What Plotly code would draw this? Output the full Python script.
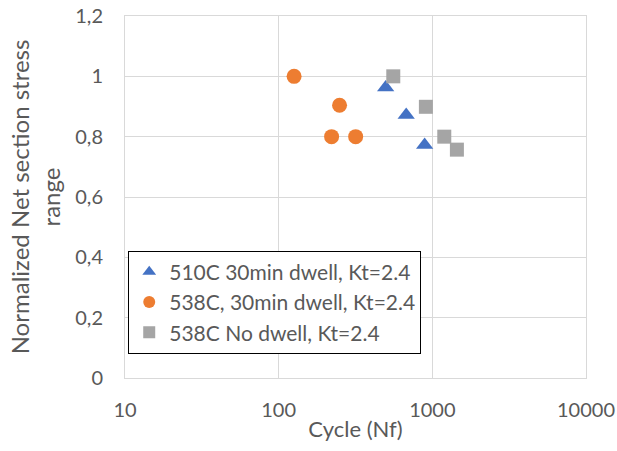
import plotly.graph_objects as go

blue_x = [497, 676, 891]
blue_y = [0.963, 0.872, 0.772]
orange_x = [126, 249, 221, 317]
orange_y = [1.0, 0.904, 0.8, 0.8]
gray_x = [557, 908, 1196, 1445]
gray_y = [1.0, 0.899, 0.8, 0.757]

names = ["510C 30min dwell, Kt=2.4", "538C, 30min dwell, Kt=2.4", "538C No dwell, Kt=2.4"]
y_ticks = [0, 0.2, 0.4, 0.6, 0.8, 1.0, 1.2]
y_tick_labels = ["0", "0,2", "0,4", "0,6", "0,8", "1", "1,2"]
x_ticks = [10, 100, 1000, 10000]
x_tick_labels = ["10", "100", "1000", "10000"]

fig = go.Figure()
fig.add_trace(go.Scatter(x=blue_x, y=blue_y, mode="markers", name=names[0],
                         marker=dict(symbol="triangle-up", size=15, color="#4472C4")))
fig.add_trace(go.Scatter(x=orange_x, y=orange_y, mode="markers", name=names[1],
                         marker=dict(symbol="circle", size=15, color="#ED7D31")))
fig.add_trace(go.Scatter(x=gray_x, y=gray_y, mode="markers", name=names[2],
                         marker=dict(symbol="square", size=14, color="#A5A5A5")))

font_family = "Lato, Carlito, sans-serif"
fig.update_layout(
    width=617, height=451,
    margin=dict(l=125, r=31, t=16, b=73),
    paper_bgcolor="white", plot_bgcolor="white",
    font=dict(family=font_family, color="#595959", size=20),
    showlegend=True,
    legend=dict(x=0.007, y=0.352, xanchor="left", yanchor="top",
                bordercolor="black", borderwidth=1, bgcolor="white",
                font=dict(size=21, color="#595959"),
                itemsizing="constant", tracegroupgap=0,
                itemwidth=30),
    xaxis=dict(type="log", range=[1, 4], tickvals=x_ticks, ticktext=x_tick_labels,
               showgrid=True, gridcolor="#D9D9D9", gridwidth=1,
               showline=True, linecolor="#D9D9D9", mirror=True, zeroline=False,
               ticks="outside", ticklen=14, tickcolor="rgba(0,0,0,0)",
               automargin=False,
               title=dict(text="Cycle (Nf)", font=dict(size=22), standoff=1),
               tickfont=dict(size=20)),
    yaxis=dict(range=[0, 1.2], tickvals=y_ticks, ticktext=y_tick_labels,
               showgrid=True, gridcolor="#D9D9D9", gridwidth=1,
               showline=True, linecolor="#D9D9D9", mirror=True, zeroline=False,
               ticks="outside", ticklen=17, tickcolor="rgba(0,0,0,0)",
               automargin=False,
               title=dict(text="Normalized Net section stress<br>range", font=dict(size=24), standoff=7),
               tickfont=dict(size=20)),
)

fig.write_html("out.html", config={"displayModeBar": False},
               post_script="document.body.style.margin='0';")
